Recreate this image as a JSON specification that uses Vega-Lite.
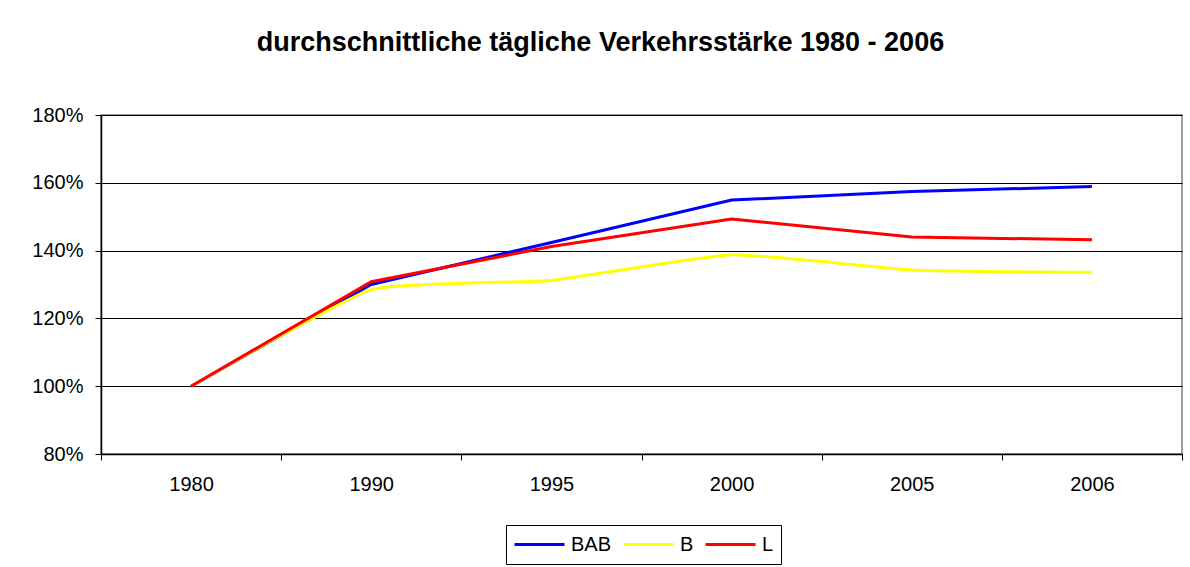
{
  "$schema": "https://vega.github.io/schema/vega-lite/v6.json",
  "autosize": {"type": "none"},
  "padding": {"left": 101, "top": 115, "right": 8, "bottom": 113},
  "width": 1081,
  "height": 339,
  "background": "white",
  "title": {
    "text": "durchschnittliche tägliche Verkehrsstärke 1980 - 2006",
    "fontSize": 27,
    "font": "Liberation Sans",
    "fontWeight": "bold",
    "color": "black",
    "anchor": "middle",
    "dx": -41,
    "offset": 48
  },
  "data": {
    "values": [
      {"Jahr": "1980", "Serie": "BAB", "Wert": 1.0},
      {"Jahr": "1990", "Serie": "BAB", "Wert": 1.30},
      {"Jahr": "1995", "Serie": "BAB", "Wert": 1.424},
      {"Jahr": "2000", "Serie": "BAB", "Wert": 1.549},
      {"Jahr": "2005", "Serie": "BAB", "Wert": 1.574},
      {"Jahr": "2006", "Serie": "BAB", "Wert": 1.589},
      {"Jahr": "1980", "Serie": "B", "Wert": 1.0},
      {"Jahr": "1990", "Serie": "B", "Wert": 1.285},
      {"Jahr": "1995", "Serie": "B", "Wert": 1.312},
      {"Jahr": "2000", "Serie": "B", "Wert": 1.388},
      {"Jahr": "2005", "Serie": "B", "Wert": 1.343},
      {"Jahr": "2006", "Serie": "B", "Wert": 1.336},
      {"Jahr": "1980", "Serie": "L", "Wert": 1.0},
      {"Jahr": "1990", "Serie": "L", "Wert": 1.308},
      {"Jahr": "1995", "Serie": "L", "Wert": 1.412},
      {"Jahr": "2000", "Serie": "L", "Wert": 1.493},
      {"Jahr": "2005", "Serie": "L", "Wert": 1.440},
      {"Jahr": "2006", "Serie": "L", "Wert": 1.432}
    ]
  },
  "encoding": {
    "x": {
      "field": "Jahr",
      "type": "ordinal",
      "sort": null,
      "bandPosition": 0.5,
      "scale": {"type": "band", "paddingInner": 0, "paddingOuter": 0},
      "axis": {
        "title": null,
        "labelAngle": 0,
        "tickBand": "extent",
        "tickSize": 6,
        "labelPadding": 14,
        "grid": false
      }
    },
    "y": {
      "field": "Wert",
      "type": "quantitative",
      "scale": {"domain": [0.8, 1.8], "nice": false, "zero": false},
      "axis": {
        "title": null,
        "format": ".0%",
        "values": [0.8, 1.0, 1.2, 1.4, 1.6, 1.8],
        "tickSize": 6,
        "labelPadding": 12,
        "grid": true
      }
    },
    "color": {
      "field": "Serie",
      "type": "nominal",
      "scale": {"domain": ["BAB", "B", "L"], "range": ["#0000FF", "#FFFF00", "#FF0000"]},
      "legend": {
        "title": null,
        "orient": "none",
        "legendX": 405,
        "legendY": 410,
        "direction": "horizontal",
        "strokeColor": "black",
        "padding": 7,
        "symbolType": "stroke",
        "symbolSize": 2500,
        "symbolStrokeWidth": 3,
        "clipHeight": 25,
        "labelFontSize": 20,
        "labelOffset": 5,
        "columnPadding": 10,
        "labelColor": "black"
      }
    }
  },
  "layer": [
    {
      "transform": [{"filter": "datum.Serie === 'BAB'"}],
      "mark": {"type": "line", "strokeWidth": 3}
    },
    {
      "transform": [{"filter": "datum.Serie === 'B'"}],
      "mark": {"type": "line", "strokeWidth": 3, "interpolate": "cardinal", "tension": 0.6}
    },
    {
      "transform": [{"filter": "datum.Serie === 'L'"}],
      "mark": {"type": "line", "strokeWidth": 3}
    }
  ],
  "config": {
    "font": "Liberation Sans",
    "view": {"stroke": "#808080", "strokeWidth": 1.5},
    "axis": {
      "domainColor": "black",
      "domainWidth": 1.5,
      "tickColor": "black",
      "tickWidth": 1,
      "gridColor": "black",
      "gridWidth": 1,
      "gridOpacity": 1,
      "labelFontSize": 20,
      "labelColor": "black",
      "labelFont": "Liberation Sans"
    },
    "legend": {"labelFont": "Liberation Sans"}
  }
}
